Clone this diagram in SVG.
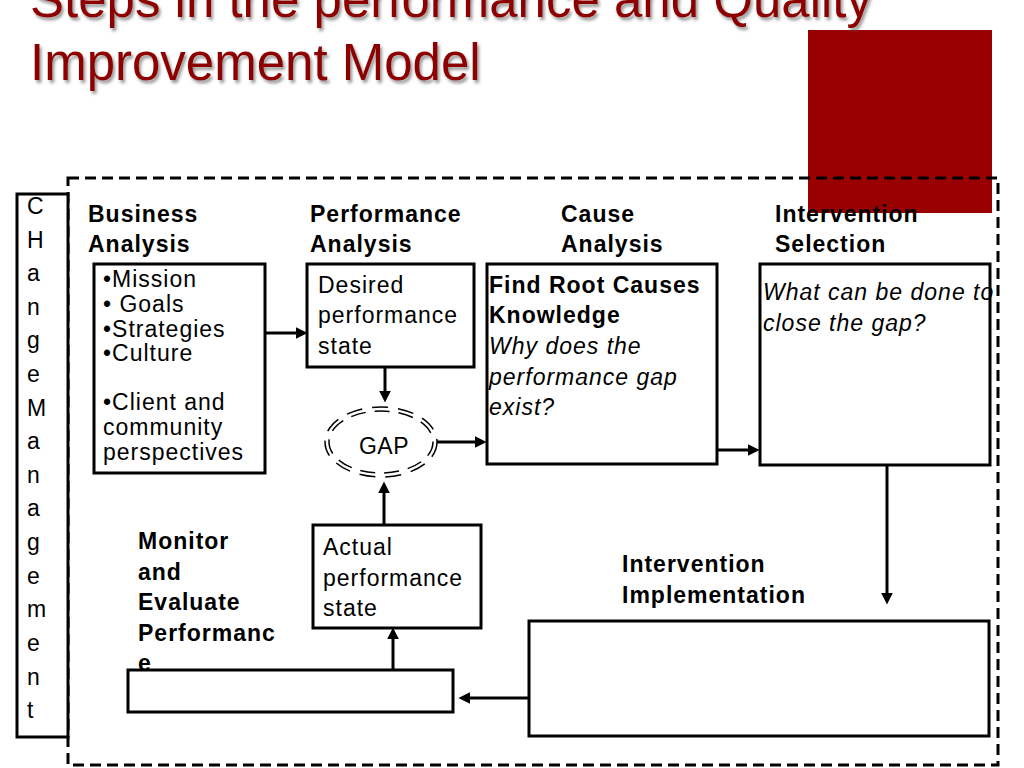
<svg xmlns="http://www.w3.org/2000/svg" width="1024" height="768" viewBox="0 0 1024 768">
<style>
.t{font-family:"Liberation Sans",Arial,Helvetica,sans-serif;font-size:23px;letter-spacing:1px;fill:#000}
.b{font-weight:bold}
.i{font-style:italic}
.box{fill:#fff;stroke:#000;stroke-width:3}
.con{stroke:#000;stroke-width:3;fill:none}
.title{font-family:"Liberation Sans",Arial,Helvetica,sans-serif;font-size:51px;fill:#8e0000}
</style>
<defs>
<marker id="ah" viewBox="0 0 10 10" refX="7" refY="5" markerWidth="12" markerHeight="12" markerUnits="userSpaceOnUse" orient="auto">
<path d="M0,0 L10,5 L0,10 z" fill="#000"/>
</marker>
<filter id="sh" x="-5%" y="-20%" width="110%" height="150%">
<feDropShadow dx="2" dy="3" stdDeviation="1.5" flood-color="#555" flood-opacity="0.6"/>
</filter>
</defs>
<rect width="1024" height="768" fill="#fff"/>
<rect id="accent" x="808" y="30" width="184" height="183" fill="#990000"/>
<g id="title" filter="url(#sh)">
<text class="title" x="30" y="17">Steps in the performance and Quality</text>
<text class="title" x="30" y="80">Improvement Model</text>
</g>
<rect id="frame" x="68" y="178" width="930" height="587" fill="none" stroke="#000" stroke-width="3" stroke-dasharray="11 6"/>
<g id="change-management">
<rect class="box" x="17" y="194" width="51" height="543"/>
<text class="t" x="27" y="214">C</text>
<text class="t" x="27" y="248">H</text>
<text class="t" x="27" y="281">a</text>
<text class="t" x="27" y="315">n</text>
<text class="t" x="27" y="348">g</text>
<text class="t" x="27" y="382">e</text>
<text class="t" x="27" y="416">M</text>
<text class="t" x="27" y="449">a</text>
<text class="t" x="27" y="483">n</text>
<text class="t" x="27" y="516">a</text>
<text class="t" x="27" y="550">g</text>
<text class="t" x="27" y="584">e</text>
<text class="t" x="27" y="617">m</text>
<text class="t" x="27" y="651">e</text>
<text class="t" x="27" y="685">n</text>
<text class="t" x="27" y="718">t</text>
</g>
<g id="business-analysis">
<text class="t b" x="88" y="222">Business</text>
<text class="t b" x="88" y="252">Analysis</text>
<rect class="box" x="94" y="264" width="171" height="209"/>
<text class="t" x="103" y="287">•Mission</text>
<text class="t" x="103" y="312">• Goals</text>
<text class="t" x="103" y="337">•Strategies</text>
<text class="t" x="103" y="361">•Culture</text>
<text class="t" x="103" y="410">•Client and</text>
<text class="t" x="103" y="435">community</text>
<text class="t" x="103" y="460">perspectives</text>
</g>
<g id="performance-analysis">
<text class="t b" x="310" y="222">Performance</text>
<text class="t b" x="310" y="252">Analysis</text>
<rect class="box" x="307" y="264" width="167" height="103"/>
<text class="t" x="318" y="293">Desired</text>
<text class="t" x="318" y="323">performance</text>
<text class="t" x="318" y="354">state</text>
</g>
<g id="gap">
<ellipse cx="381" cy="442" rx="56" ry="35" fill="none" stroke="#000" stroke-width="1.5" stroke-dasharray="16 10"/>
<ellipse cx="381" cy="442" rx="52" ry="31" fill="none" stroke="#000" stroke-width="1.5" stroke-dasharray="15 9"/>
<text class="t" x="384" y="454" text-anchor="middle" style="letter-spacing:0.5px">GAP</text>
</g>
<g id="cause-analysis">
<text class="t b" x="561" y="222">Cause</text>
<text class="t b" x="561" y="252">Analysis</text>
<rect class="box" x="487" y="264" width="230" height="200"/>
<text class="t b" x="489" y="293">Find Root Causes</text>
<text class="t b" x="489" y="323">Knowledge</text>
<text class="t i" x="489" y="354">Why does the</text>
<text class="t i" x="489" y="385">performance gap</text>
<text class="t i" x="489" y="415">exist?</text>
</g>
<g id="intervention-selection">
<text class="t b" x="775" y="222">Intervention</text>
<text class="t b" x="775" y="252">Selection</text>
<rect class="box" x="760" y="264" width="230" height="201"/>
<text class="t i" x="763" y="300">What can be done to</text>
<text class="t i" x="763" y="331">close the gap?</text>
</g>
<g id="intervention-implementation">
<text class="t b" x="622" y="572">Intervention</text>
<text class="t b" x="622" y="603">Implementation</text>
<rect class="box" x="529" y="621" width="460" height="115"/>
</g>
<g id="actual-performance">
<rect class="box" x="313" y="525" width="168" height="103"/>
<text class="t" x="323" y="555">Actual</text>
<text class="t" x="323" y="586">performance</text>
<text class="t" x="323" y="616">state</text>
</g>
<g id="monitor-evaluate">
<rect class="box" x="128" y="670" width="325" height="42"/>
<text class="t b" x="138" y="549">Monitor</text>
<text class="t b" x="138" y="580">and</text>
<text class="t b" x="138" y="610">Evaluate</text>
<text class="t b" x="138" y="641">Performanc</text>
<text class="t b" x="138" y="671">e</text>
</g>
<g id="connectors">
<line class="con" x1="265" y1="333" x2="304" y2="333" marker-end="url(#ah)"/>
<line class="con" x1="385" y1="367" x2="385" y2="399" marker-end="url(#ah)"/>
<line class="con" x1="437" y1="442" x2="483" y2="442" marker-end="url(#ah)"/>
<line class="con" x1="717" y1="450" x2="756" y2="450" marker-end="url(#ah)"/>
<line class="con" x1="887" y1="465" x2="887" y2="601" marker-end="url(#ah)"/>
<line class="con" x1="529" y1="698" x2="462" y2="698" marker-end="url(#ah)"/>
<line class="con" x1="393" y1="670" x2="393" y2="631" marker-end="url(#ah)"/>
<line class="con" x1="384" y1="525" x2="384" y2="485" marker-end="url(#ah)"/>
</g>
</svg>
